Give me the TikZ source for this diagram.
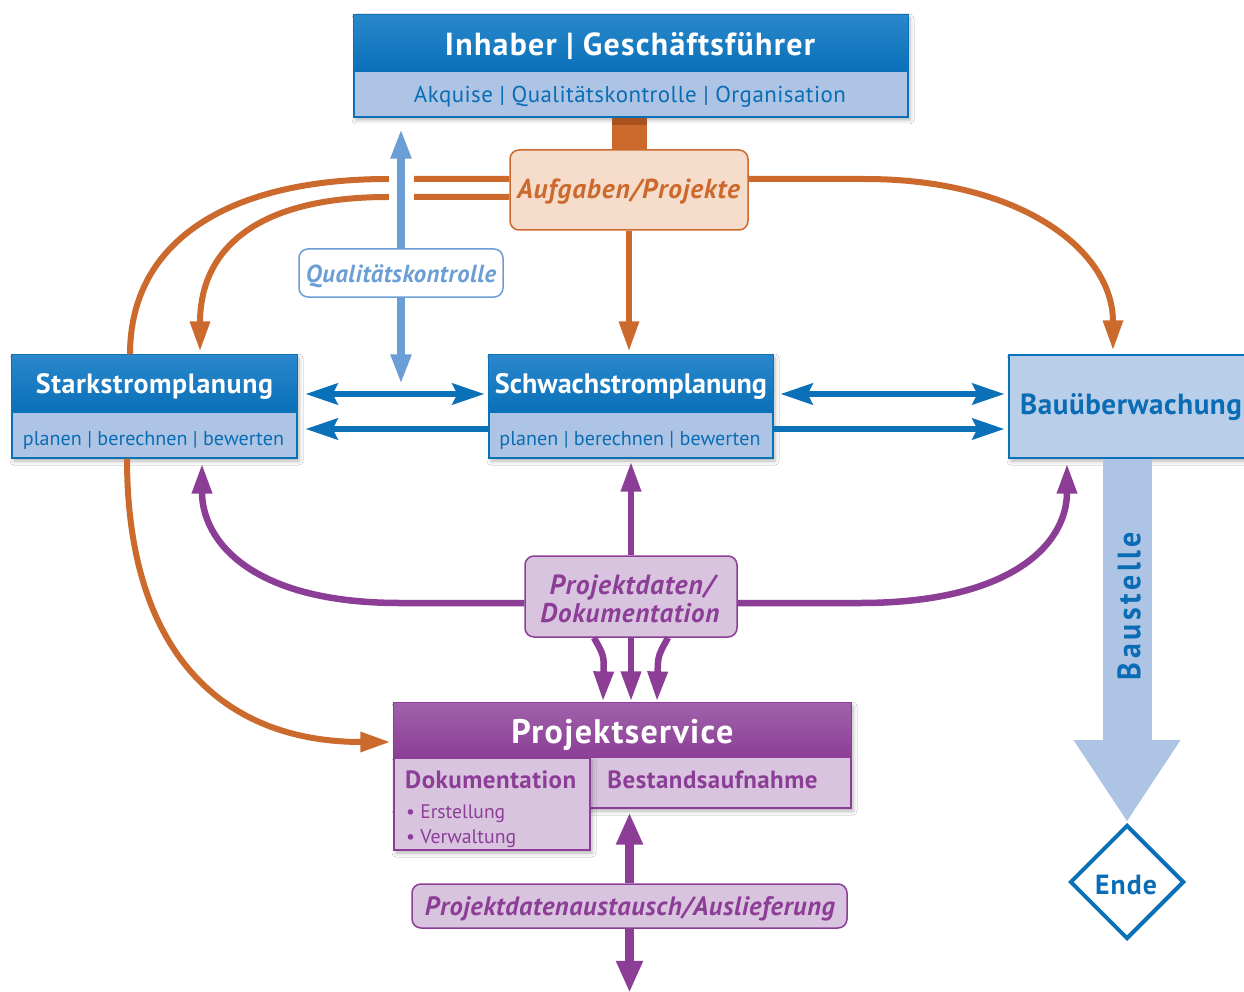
\documentclass[tikz,border=0pt]{standalone}
\usepackage{graphicx}
\usepackage{fontspec}
\setmainfont{PT Sans}
\usetikzlibrary{arrows.meta,shadows.blur,shapes.geometric,calc}
\definecolor{dblue}{HTML}{0A70B8}
\definecolor{dblueT}{HTML}{2A88CC}
\definecolor{lblue}{HTML}{ADC4E4}
\definecolor{tblue}{HTML}{0A6CB5}
\definecolor{qblue}{HTML}{6A9ED5}
\definecolor{orng}{HTML}{CC692D}
\definecolor{orngD}{HTML}{A9521F}
\definecolor{peach}{HTML}{F6DDCB}
\definecolor{purp}{HTML}{8C3E96}
\definecolor{purpT}{HTML}{A062AB}
\definecolor{lilac}{HTML}{D9C4E0}
\definecolor{bauf}{HTML}{B9CEE9}
\newcommand{\fw}[2]{\resizebox{#1pt}{!}{#2}}
\newcommand{\trk}[1]{\addfontfeatures{LetterSpace=#1}}
\begin{document}
\begin{tikzpicture}[x=1pt,y=-1pt,
  shd/.style={blur shadow={shadow xshift=2pt,shadow yshift=-3pt,shadow blur radius=4pt,shadow opacity=30}},
  bbox/.style={rectangle, inner sep=0pt, draw=dblue, line width=1.2pt, fill=lblue, shd},
  pbox/.style={rectangle, inner sep=0pt, draw=purp, line width=1.2pt, fill=lilac, shd},
  tag/.style={rectangle, rounded corners=9pt, inner sep=0pt, line width=1.5pt},
  txt/.style={inner sep=0pt, anchor=base},
  oline/.style={draw=orng, line width=6pt},
  otip/.style={-{Triangle[length=30pt,width=19pt]}},
  pline/.style={draw=purp, line width=6.5pt},
  ptip/.style={-{Triangle[length=30pt,width=19pt]}},
  bline/.style={draw=dblue, line width=6pt},
  btip/.style={-{Stealth[length=32pt,width=21pt,inset=5pt]}},
  btips/.style={{Stealth[length=32pt,width=21pt,inset=5pt]}-{Stealth[length=32pt,width=21pt,inset=5pt]}},
  qtip/.style={-{Triangle[length=30pt,width=19pt]}},
]
\useasboundingbox (0,0) rectangle (1244,992);
\fill[white] (0,0) rectangle (1244,992);

% ---- top box
\node[bbox, minimum width=554pt, minimum height=102pt] (top) at (631,66) {};
\shade[top color=dblueT, bottom color=dblue] (top.north west) rectangle ($(top.north east)+(0,57)$);
\draw[dblue, line width=1.2pt] (top.north west) rectangle (top.south east);
\node[txt, text=white] (topT) at (630,56) {\fw{370}{\bfseries\trk{4} Inhaber | Geschäftsführer}};
\node[txt, text=tblue] (topS) at (630,103) {\fw{432}{\trk{2}Akquise | Qualitätskontrolle | Organisation}};

% ---- Aufgaben
\node[tag, draw=orng, fill=peach, minimum width=238pt, minimum height=80pt] (aufg) at (629,190) {};
\node[txt, text=orng] (aufgT) at (628.5,199) {\fw{223}{\bfseries\itshape\trk{3}Aufgaben/Projekte}};

% ---- Qualitaetskontrolle label
\node[tag, draw=qblue, fill=white, minimum width=204pt, minimum height=48pt] (qk) at (401,273) {};
\node[txt, text=qblue] (qkT) at (401,283) {\fw{190}{\bfseries\itshape\trk{2}Qualitätskontrolle}};

% ---- Starkstrom
\node[bbox, minimum width=285pt, minimum height=103pt] (stark) at (154.5,406.5) {};
\shade[top color=dblueT, bottom color=dblue] (stark.north west) rectangle ($(stark.north east)+(0,58)$);
\draw[dblue, line width=1.2pt] (stark.north west) rectangle (stark.south east);
\node[txt, text=white] (starkT) at (154.5,393) {\fw{237}{\bfseries\trk{2}Starkstromplanung}};
\node[txt, text=tblue] (starkS) at (153.5,445) {\fw{261}{planen | berechnen | bewerten}};

% ---- Schwachstrom
\node[bbox, minimum width=284pt, minimum height=103pt] (schw) at (631,406.5) {};
\shade[top color=dblueT, bottom color=dblue] (schw.north west) rectangle ($(schw.north east)+(0,58)$);
\draw[dblue, line width=1.2pt] (schw.north west) rectangle (schw.south east);
\node[txt, text=white] (schwT) at (631,393) {\fw{272}{\bfseries Schwachstromplanung}};
\node[txt, text=tblue] (schwS) at (630,445) {\fw{261}{planen | berechnen | bewerten}};

% ---- Bauueberwachung
\node[bbox, fill=bauf, minimum width=251pt, minimum height=103pt] (bau) at (1134.5,406.5) {};
\node[txt, text=tblue] (bauT) at (1131,414) {\fw{222}{\bfseries\trk{2}Bauüberwachung}};

% ---- Projektdaten
\node[tag, draw=purp, fill=lilac, minimum width=212pt, minimum height=81pt] (pd) at (631,596.5) {};
\node[txt, text=purp] (pdA) at (632,594) {\fw{165}{\bfseries\itshape\trk{3}Projektdaten/}};
\node[txt, text=purp] (pdB) at (630,622) {\fw{179}{\bfseries\itshape\trk{3}Dokumentation}};

% ---- Projektservice
\node[pbox, minimum width=457pt, minimum height=105pt] (ps) at (622.5,755.5) {};
\shade[top color=purpT, bottom color=purp] (ps.north west) rectangle ($(ps.north east)+(0,55)$);
\draw[purp, line width=1.2pt] (ps.north west) rectangle (ps.south east);
\node[pbox, minimum width=196pt, minimum height=92pt] (psdok) at (492,804) {};
\node[txt, text=white] (psT) at (622.5,743) {\fw{222}{\bfseries\trk{4}Projektservice}};
\node[txt, text=purp, anchor=base west] (dokT) at (405,788) {\fw{171}{\bfseries\trk{2}Dokumentation}};
\node[txt, text=purp, anchor=base west] (erst) at (406,818) {\fw{99}{• Erstellung}};
\node[txt, text=purp, anchor=base west] (verw) at (406,843) {\fw{110}{• Verwaltung}};
\node[txt, text=purp] (bestT) at (712.5,788) {\fw{210}{\bfseries\trk{2}Bestandsaufnahme}};

% ---- Projektdatenaustausch
\node[tag, draw=purp, fill=lilac, minimum width=435pt, minimum height=44pt] (pda) at (629.5,906) {};
\node[txt, text=purp] (pdaT) at (630,915) {\fw{410}{\bfseries\itshape\trk{2}Projektdatenaustausch/Auslieferung}};

% ---- Ende
\node[diamond, draw=dblue, line width=4pt, fill=white, minimum width=114pt, minimum height=114pt, inner sep=0pt] (ende) at (1127,882) {};
\node[txt, text=tblue] (endeT) at (1126,894) {\fw{62}{\bfseries\trk{4}Ende}};

% ---- Baustelle arrow
\draw[lblue, line width=49pt, -{Triangle[length=82pt,width=101pt]}, shorten >=1pt] ($(ende.north |- bau.south)+(0,0.7)$) -- (ende.north);
\node[text=tblue, inner sep=0pt, rotate=90] (baustT) at (1129,606) {\resizebox{148pt}{23pt}{\bfseries\trk{12}Baustelle}};

% ---- orange connectors
\draw[orng, line width=35pt] (aufg.north |- top.south) -- (aufg.north);
\draw[orngD, line width=35pt] (aufg.north |- top.south) -- ($(aufg.north |- top.south)+(0,7)$);
\draw[oline] ($(aufg.west)+(0,-11)$) -- (388,179) .. controls (230,179) and (130,240) .. ($(stark.north)+(-24.5,0)$);
\draw[oline, otip] ($(stark.south)+(-27.5,0)$) .. controls (127,650) and (220,742) .. ($(ps.west)+(-3,-13.5)$);
\draw[oline, otip] ($(aufg.west)+(0,7)$) -- (388,197) .. controls (255,197) and (200,250) .. ($(stark.north)+(45.5,-3)$);
\draw[oline, otip] ($(aufg.east)+(0,-11)$) -- (865,179) .. controls (1020,179) and (1113,250) .. ($(bau.north)+(-21.5,-4)$);
\draw[oline, otip] (aufg.south) -- ($(aufg.south |- schw.north)+(0,-3)$);

% ---- quality control arrow
\draw[white, line width=25pt] ($(qk.north)+(0,-81)$) -- ($(qk.north)+(0,-43)$);
\draw[qblue, line width=8pt, qtip] (qk.north) -- ($(qk.north |- top.south)+(0,11)$);
\draw[qblue, line width=8pt, qtip] (qk.south) -- ($(qk.south |- stark.north)+(0,30)$);

% ---- blue horizontal arrows
\draw[bline, btips] ($(stark.east)+(8,-12.5)$) -- ($(schw.west)+(-4,-12.5)$);
\draw[bline, btip] ($(schw.west)+(0,22.5)$) -- ($(stark.east)+(8,22.5)$);
\draw[bline, btips] ($(schw.east)+(7,-12.5)$) -- ($(bau.west)+(-4,-12.5)$);
\draw[bline, btip] ($(schw.east)+(0,22.5)$) -- ($(bau.west)+(-4,22.5)$);

% ---- purple connectors
\draw[pline, ptip] (pd.north) -- ($(pd.north |- schw.south)+(0,3)$);
\draw[pline, ptip] ($(pd.west)+(0,6.5)$) -- (400,603) .. controls (250,603) and (202,540) .. ($(stark.south)+(47.5,5)$);
\draw[pline, ptip] ($(pd.east)+(0,6.5)$) -- (860,603) .. controls (1010,603) and (1067,545) .. ($(bau.south)+(-67.5,5)$);
\draw[pline, ptip] ($(pd.south)+(-37,0)$) .. controls ($(pd.south)+(-27,18)$) .. ($(ps.north)+(-19.5,-1)$);
\draw[pline, ptip] (pd.south) -- ($(pd.south |- ps.north)+(0,-1)$);
\draw[pline, ptip] ($(pd.south)+(37,0)$) .. controls ($(pd.south)+(27,18)$) .. ($(ps.north)+(34.5,-1)$);
\draw[purp, line width=9pt, {Triangle[length=32pt,width=25pt]}-] ($(pda.north |- ps.south)+(0,4)$) -- (pda.north);
\draw[purp, line width=9pt, -{Triangle[length=32pt,width=25pt]}] (pda.south) -- ($(pda.south)+(0,64)$);
\end{tikzpicture}
\end{document}
